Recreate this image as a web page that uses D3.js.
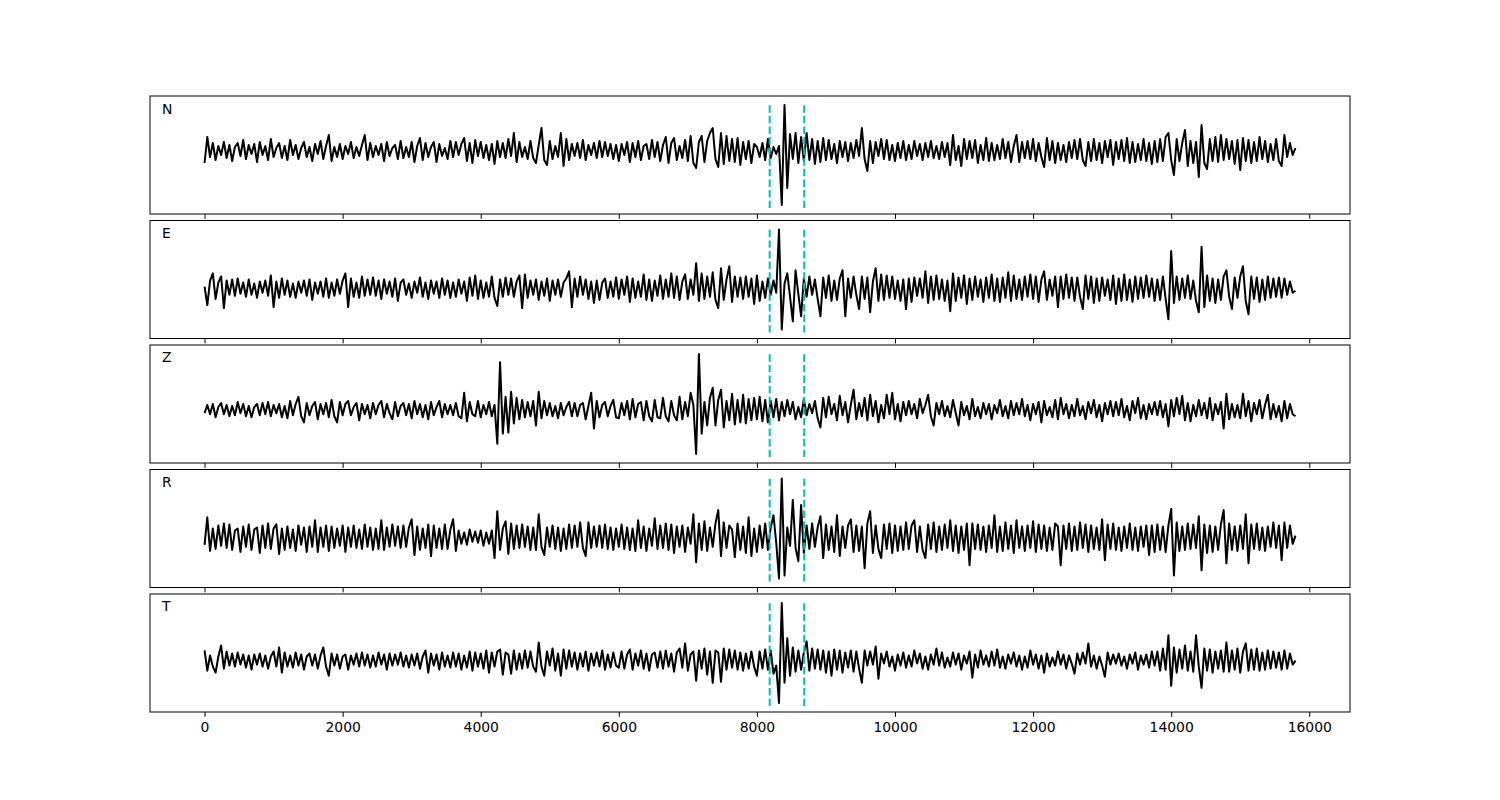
<!DOCTYPE html>
<html>
<head>
<meta charset="utf-8">
<script src="https://cdn.jsdelivr.net/npm/d3@7"></script>
<style>
  body { margin: 0; background: #fff; font-family: "DejaVu Sans", sans-serif; }
  .tick line { stroke: #000; }
  .tick text { fill: #000; font-size: 13.9px; font-family: "DejaVu Sans", sans-serif; }
  .comp-label { font-size: 13.9px; fill: #000; }
</style>
</head>
<body>
<div id="chart"></div>
<script>
// sample spacing of every trace (x units)
const dt = 40;

const components = ["N", "E", "Z", "R", "T"];

const traceN = [
  -12, 14, -6, 8, -9, 5, -4, 9, -7, 6, -10, 4, 8, -5, 11,
  -8, 6, -3, 7, -11, 9, -4, 5, -9, 12, -6, 3, 8, -7, 5,
  -9, 11, -4, 6, -8, 3, 9, -6, 4, -10, 7, -3, 10, -8, 5,
  16, -10, 4, -6, 7, -8, 5, -3, 9, -7, 4, -5, 6, 16, -9,
  8, -6, 5, -4, 7, -10, 9, -5, 3, 6, -8, 10, -7, 4, -6,
  9, -11, 5, 13, -9, 8, -6, 4, 9, -11, 7, -5, 3, -8, 10,
  -6, 9, -4, 7, 13, -10, 8, -12, 11, -5, 9, -7, 6, -9, 7,
  -13, 10, -6, 8, -7, 12, -5, 18, -11, 9, -6, 4, -8, 10, -7,
  -12, 6, 23, -9, -14, 10, -8, 5, -6, 18, -15, 12, -9, 7, -5,
  8, -7, 11, -9, 6, -4, 8, -7, 10, -6, 9, -5, 7, -8, 6,
  -10, 7, -4, 9, -11, 8, -6, 10, -9, 5, 7, -8, 11, -6, 9,
  -10, 6, 14, -12, 8, 13, -9, 5, -7, 11, -10, 15, -12, -17, 9,
  15, -11, 10, 18, 23, -8, -16, 18, -13, 15, -10, 12, -11, 13, -14,
  9, -8, 10, -12, 7, 4, -6, 8, -9, 12, -7, 4, -3, 5, -54,
  46, -37, 17, -8, 18, -12, 14, -10, 18, -9, 12, -13, 10, -11, 13,
  -9, 11, -8, 7, -12, 10, -6, 9, -10, 8, -7, 11, -5, 23, -8,
  -20, 10, -12, 9, -5, 12, -8, 11, -9, 6, -10, 8, -7, 10, -9,
  6, -8, 10, -5, 7, -9, 8, -6, 10, -7, 5, -8, 9, -6, 8,
  -14, 16, -9, 5, -15, 12, -8, 10, -7, 11, -12, 6, -9, 13, -10,
  8, -9, 6, -8, 12, -7, 9, -11, 5, 16, -11, 9, -7, 10, -8,
  12, -10, 8, -6, -16, 13, -9, 10, -12, 8, -9, 6, -11, 9, -7,
  11, -8, 12, -9, -15, 9, -10, 12, -9, 8, -12, 10, -6, 11, -14,
  9, -8, 11, -10, 13, -12, 9, -11, 7, -9, 12, -10, 8, -13, 10,
  -11, 12, -10, 14, 18, -9, -24, 12, -10, 8, 21, -15, 10, -12, 9,
  -26, 26, -12, -18, 12, -10, 14, -11, 16, -9, 12, -8, 10, -13, 11,
  -19, 13, -10, 11, -12, 9, -10, 14, -8, 10, -11, 7, -9, 12, -10,
  -15, 16, -6, 8, -4, 3
];

const traceE = [
  2, -16, 8, 15, -10, 6, 12, -19, 8, -6, 9, -7, 10, -5, 6,
  -8, 9, -6, 5, -9, 7, -4, 8, -7, 13, -18, 7, -9, 10, -6,
  8, -8, 5, -9, 7, -4, 8, -7, 9, -11, 6, -5, 7, -8, 10,
  -9, 6, -7, 9, -5, 8, 15, -18, 10, -8, 6, -9, 12, -7, 9,
  -6, 11, -7, 8, -10, 9, -5, 7, -8, 10, -12, 6, 9, -6, 5,
  -9, 7, -4, 11, -8, 6, -10, 8, -5, 7, -9, 10, -6, 8, -9,
  6, -8, 9, -5, 7, -12, 11, -7, 13, -10, 8, -9, 6, -8, 12,
  -9, -17, 9, -8, 11, -6, 10, -8, 7, 13, -19, 14, -9, 8, -6,
  9, -11, 7, -7, 10, -12, 8, -6, 9, -8, 6, 10, 17, -18, 10,
  -8, 12, -6, 9, -10, 7, -14, 8, -11, 6, 10, -9, 7, -8, 11,
  -10, 9, -6, 12, -13, 10, -9, 7, -8, 14, -11, 9, -12, 8, -7,
  13, -10, 9, -8, 15, -9, 12, -11, 7, 14, -10, 9, -6, 25, -12,
  15, -10, 12, -8, 16, -11, -19, 20, -11, 9, 22, -13, 12, -8, 11,
  -10, 12, -8, 10, -15, 13, -12, 7, -9, 10, -6, 8, -4, 58, -40,
  5, 15, -8, -32, 18, -5, -27, 10, -8, 12, -6, 9, -10, -27, 11,
  -9, 13, -12, 8, -11, 10, 18, -27, 10, -9, 12, -6, -20, 12, -10,
  11, -23, 7, 20, -12, 14, -11, 13, -9, 12, -10, 8, -12, 9, -20,
  10, -13, 11, -7, 10, -9, 17, -14, 12, -11, 13, -10, 9, -12, 8,
  -22, 15, -12, 11, -9, 13, -15, 10, -11, 12, -8, 9, -13, 11, -9,
  14, -12, 10, -13, 11, -9, 16, -12, 13, -10, 9, -11, 12, -8, 14,
  -10, 12, -13, 9, 17, -11, 9, -7, 12, -18, 12, -10, 14, -9, 11,
  -12, 11, -8, -20, 13, -10, 12, -14, 10, -12, 11, -7, 9, -11, 13,
  -15, 10, -12, 14, -11, 9, -13, 12, -10, 11, -9, 13, -8, 10, -12,
  9, -11, 12, -10, -30, 37, -14, 12, -11, 10, -9, 13, -10, 8, -12,
  -23, 41, -18, 13, -12, 10, -14, 9, -11, 12, 18, -8, -20, 11, -9,
  12, 22, -12, -25, 12, -10, 11, -13, 9, -11, 12, -9, 10, -8, 11,
  -9, 10, -6, 7, -4, -2
];

const traceZ = [
  -3, 5, -4, 6, -7, 3, 7, -4, 5, -6, 4, -5, 8, -3, 6,
  -6, 4, -7, 3, 6, -5, 7, -4, 8, -6, 5, -3, 6, -7, 4,
  -8, 9, -5, 6, 13, -6, -12, 7, -5, 4, 8, -9, 6, -4, 7,
  -7, 10, -6, -12, 8, -5, 6, 9, -5, 3, 7, -10, 6, -4, 5,
  -8, 7, -4, 5, 9, -7, 6, -3, -9, 8, -6, 4, 7, -5, 6,
  -8, 9, -4, 6, -7, 5, -9, 8, -5, 3, 9, -7, 6, -4, 5,
  -5, 7, -6, -8, 17, -11, 8, -4, -6, 9, -7, 5, -4, 8, -6,
  5, -33, 47, -23, 13, -22, 18, -13, 12, -9, 10, -7, 8, -6, 9,
  -15, 18, -8, 9, -5, 7, -6, 4, -8, 7, -5, 3, 8, -6, 7,
  -6, 5, 7, -9, 4, 17, -18, 9, -7, 5, 8, -6, 4, 10, -7,
  -8, 7, -5, 9, -9, 11, -7, 6, 8, -10, 9, -6, -11, 10, -7,
  -8, 12, -6, -11, 9, -5, -10, 13, -9, 8, -6, 17, 5, -43, 55,
  -23, 8, -15, 12, 22, -15, 10, 20, -17, 9, -10, 16, -14, 10, -12,
  15, -13, 11, -10, 12, -9, 13, -11, 10, -12, 9, -7, 11, -10, 8,
  -6, 10, -4, 8, -9, 3, -7, 11, -5, 6, -3, 9, -8, -17, 12,
  -7, 13, -4, 6, -10, 14, -5, 8, -12, 5, 20, -9, 7, -6, 12,
  -10, 15, -6, 9, -12, 5, -8, 15, -4, 17, -9, 6, -11, 8, -5,
  9, -4, 6, -8, 11, -3, 5, 15, -6, -15, 7, -4, 9, -6, 4,
  -7, 10, -3, -15, 8, -5, 4, -9, 11, -6, 3, -8, 7, -4, 6,
  -9, 5, -3, 10, -6, 4, -8, 9, -5, 7, -4, 11, -6, 5, -10,
  6, -4, 8, -12, 9, -5, 3, -7, 10, -9, 12, -4, 6, -8, 5,
  -6, 11, -5, 4, -9, 8, -3, 10, -7, 5, -11, 7, -4, 9, -6,
  8, -5, 11, -7, 4, -10, 9, -3, 12, -8, 5, -9, 6, -4, 8,
  -5, 9, -7, 6, -16, 10, -6, 12, -4, 14, -10, 7, -11, 5, -6,
  10, -5, 7, -8, 12, -10, 6, -4, 8, -18, 16, -9, 6, -7, 5,
  -8, 16, -6, 9, -11, 7, -4, 10, -8, 5, 15, -9, 6, -7, 4,
  -11, 9, -8, 6, -4, -6
];

const traceR = [
  -7, 20, -13, 9, -11, 12, -8, 14, -10, 13, -12, 7, 9, -14, 11,
  -9, 13, -12, 8, 10, -15, 12, -10, 14, -11, 9, 13, -16, 9, -12,
  11, -10, 8, -13, 12, -7, 10, -14, 11, -9, 17, -14, 10, -9, 12,
  -13, 11, -10, 9, -8, 12, -14, 10, -9, 12, -10, 8, -11, 13, -9,
  10, -12, 9, -11, 17, -12, 10, -9, 13, -8, 11, -10, 12, -9, 10,
  18, -17, 11, -12, 9, -10, 13, -18, 12, -10, 9, -11, 13, -11, 8,
  18, -13, 7, -6, 5, -7, 8, -4, 6, -5, 7, -8, 5, -6, 7,
  -20, 26, -12, 9, 16, -16, 14, -11, 12, -10, 13, -9, 11, -12, 10,
  -12, 23, -9, -17, 10, -9, 12, -11, 10, -13, 9, -11, 13, -10, 12,
  -9, 15, -10, -18, 15, -10, 11, -9, 12, -10, 13, -11, 10, -12, 9,
  -9, 13, -11, 10, -12, 9, -13, 17, -10, 11, -13, 9, -8, 19, -11,
  12, -10, 14, -12, 13, -15, 11, -9, 12, -14, 10, -6, 23, -24, 14,
  -12, 16, -13, 10, -9, 14, 27, -18, 15, -10, 12, 8, -19, 14, -12,
  11, -15, 20, -18, 9, -14, 12, -10, 14, -12, 10, 22, -5, -40, 58,
  -37, 10, -8, 37, -10, -23, 32, -15, 12, -11, 14, -9, 10, 21, -20,
  13, -12, 11, -14, 22, -18, 11, -10, 12, 18, -14, 12, -13, 11, -30,
  14, 26, -15, 12, -11, -20, 13, -11, 14, -15, 12, -13, 11, -12, 15,
  -11, 12, 17, -14, 11, -12, -20, 13, -11, 15, -14, 11, -12, 13, -10,
  17, -13, 12, -15, 11, -12, 14, -27, 14, -11, 13, -12, 11, -14, 12,
  -10, 22, -14, 11, -13, 15, -11, 12, -15, 17, -10, 11, -13, 12, -10,
  16, -14, 13, -11, 12, -13, 10, -12, 14, 11, -27, 12, -11, 14, -13,
  11, -12, 15, -10, 13, -14, 12, -11, 10, -12, 18, -22, 13, -11, 14,
  -12, 10, -13, 11, -10, 14, -12, 10, -13, 11, -9, 12, -17, 12, -14,
  13, -12, 11, -14, 12, 28, -37, 15, -13, 11, -12, 14, -11, 13, -10,
  21, -32, 13, -15, 12, -14, 11, -12, 13, 27, -25, 14, -12, 11, -13,
  12, -11, 23, -25, 13, -11, 14, -12, 10, -13, 11, -9, 15, -10, 12,
  -22, 15, -10, 12, -6, 2
];

const traceT = [
  10, -10, 5, -6, -12, 4, 15, -8, 9, -5, 7, -6, 8, -4, 6,
  -7, 5, -9, 6, -4, 7, -6, 5, -8, 4, 9, -6, 13, -12, 8,
  -6, 5, -7, 8, -5, 6, -9, 4, 7, -5, 6, -8, 5, 13, -6,
  -15, 7, -5, 6, -8, 4, 6, -9, 5, -4, 7, -6, 8, -5, 6,
  -7, 5, -6, 8, -4, 6, -9, 7, -5, 6, -4, 8, -6, 5, -7,
  6, -5, 7, -8, 4, 10, -12, 7, -5, 6, -9, 8, -6, 5, -7,
  8, -6, 7, -9, 5, -7, 9, -10, 8, -6, 7, -8, 10, -12, 8,
  -6, 9, 11, -14, 8, 6, -13, 10, -9, 7, -8, 10, -7, 9, -6,
  -11, 18, -6, -15, 9, -5, 12, -10, 7, -15, 11, -8, 10, -6, 8,
  -9, 7, -6, 9, -10, 7, -5, 8, -6, 10, -9, 6, -7, 8, -5,
  -7, 9, -8, 6, 11, -9, 7, -5, 10, -8, 7, -10, 6, 8, -7,
  9, -8, 10, -6, 7, -11, 8, 12, -7, 17, -10, 6, 9, -20, 10,
  -8, 12, -14, 9, -22, 10, 8, -21, 12, -9, 11, -7, 10, -9, 8,
  -10, 7, -8, 9, -6, -15, 9, -8, 11, -9, 10, -13, -5, -42, 57,
  -22, 22, -15, 13, -11, 10, -9, 8, 19, -10, 12, -8, 11, -9, 10,
  -12, 9, -15, 11, -9, 10, -12, 8, -7, 10, -11, 9, -8, -22, 10,
  -5, 9, -4, 14, -18, 7, -3, 9, -6, 4, -10, 6, -5, 8, -7,
  5, -6, 10, -3, 7, -8, 4, -9, 6, -4, 12, -5, 8, -7, 3,
  -6, 8, -4, 7, -9, 5, -3, 9, -17, 6, -7, 10, -4, 5, -6,
  9, -5, 11, -7, 4, -8, 6, -3, 8, -6, 5, -9, 4, -7, 10,
  -4, 6, -8, 5, -12, 7, -6, 3, -5, 9, -4, 6, -8, 5, -3,
  -13, 7, -4, 8, -3, 17, -6, 5, -8, 4, -5, -16, 8, -4, 6,
  -3, 7, -5, 4, -8, 6, -3, 8, -9, 5, -4, 6, -7, 9, -5,
  9, -10, 12, -9, 25, -25, 13, -12, 11, -8, 15, -10, 9, -11, 25,
  -6, -27, 12, -10, 11, -12, 9, -8, 10, -11, 18, -11, 10, -9, 12,
  -12, 9, 17, -10, 11, -9, 12, -10, 8, -9, 10, -8, 9, -7, 8,
  -9, 10, -8, 7, -4, 0
];

const traces = [traceN, traceE, traceZ, traceR, traceT];

// picked window (x units), drawn as dashed lines on every component
const markers = [8185, 8685];

const xTicks = [0, 2000, 4000, 6000, 8000, 10000, 12000, 14000, 16000];

function draw_components(id_tag, width, height) {
    const svg = d3.select("#" + id_tag).append("svg")
        .attr("width", width)
        .attr("height", height);

    const margin = { left: 150, right: 150, top: 96, bottom: 88 };
    const innerWidth = width - margin.left - margin.right;
    const innerHeight = height - margin.top - margin.bottom;
    const hspace = 0.055;
    const n = traces.length;
    const panelH = innerHeight / (n + (n - 1) * hspace);
    const gap = panelH * hspace;

    // shared x scale, 5% padding like matplotlib autoscale
    const xMax = (traces[0].length - 1) * dt;
    const xPad = xMax * 0.05;
    const xScale = d3.scaleLinear()
        .domain([-xPad, xMax + xPad])
        .range([0, innerWidth]);

    traces.forEach(function(trace, k) {
        const top = margin.top + k * (panelH + gap);
        const g = svg.append("g")
            .attr("transform", `translate(${margin.left},${top})`);

        const lo = d3.min(trace), hi = d3.max(trace);
        const yPad = (hi - lo) * 0.09;
        const yScale = d3.scaleLinear()
            .domain([lo - yPad, hi + yPad])
            .range([panelH, 0]);

        const clipId = "clip" + k;
        g.append("clipPath").attr("id", clipId)
            .append("rect").attr("width", innerWidth).attr("height", panelH);

        const line = d3.line()
            .x(function(d, i) { return xScale(i * dt); })
            .y(function(d) { return yScale(d); });

        g.append("path")
            .datum(trace)
            .attr("clip-path", `url(#${clipId})`)
            .attr("d", line)
            .attr("fill", "none")
            .attr("stroke", "#000")
            .attr("stroke-width", 2)
            .attr("stroke-linejoin", "round");

        // dashed window markers, drawn bottom to top over 5%..95% of the panel
        g.selectAll(".marker").data(markers)
            .enter().append("line")
            .attr("class", "marker")
            .attr("x1", function(d) { return xScale(d); })
            .attr("x2", function(d) { return xScale(d); })
            .attr("y1", panelH * 0.95)
            .attr("y2", panelH * 0.05)
            .attr("stroke", "#00bfbf")
            .attr("stroke-width", 2)
            .attr("stroke-dasharray", "7.4,3.2");

        const xAxis = d3.axisBottom(xScale)
            .tickValues(xTicks)
            .tickSize(4.9)
            .tickPadding(4.9)
            .tickFormat(k === n - 1 ? d3.format("d") : "");

        g.append("g")
            .attr("transform", `translate(0,${panelH})`)
            .call(xAxis)
            .call(function(a) { a.select(".domain").remove(); });

        // frame
        g.append("rect")
            .attr("width", innerWidth)
            .attr("height", panelH)
            .attr("fill", "none")
            .attr("stroke", "#000")
            .attr("stroke-width", 1);

        g.append("text")
            .attr("class", "comp-label")
            .attr("x", 12)
            .attr("y", 17.5)
            .text(components[k]);
    });
}

draw_components("chart", 1500, 800);
</script>
</body>
</html>
